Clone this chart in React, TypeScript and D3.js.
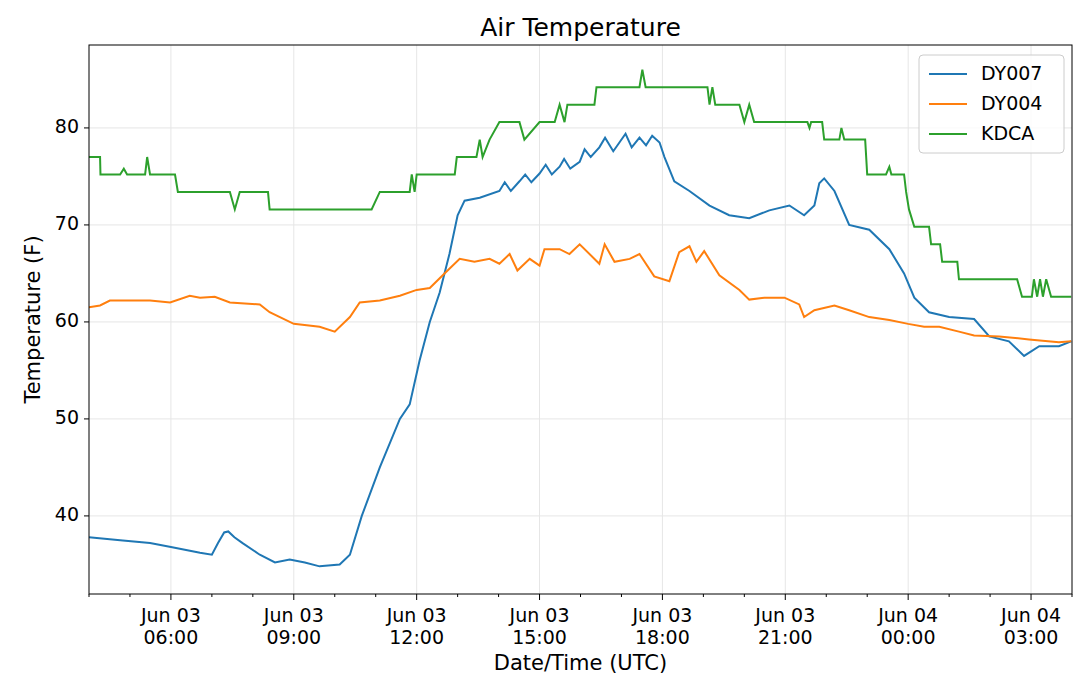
import * as d3 from 'd3'

// hours since Jun 03 00:00 UTC
const dy007T = [4.0, 4.76, 5.49, 6.0, 6.71, 7.0, 7.15, 7.3, 7.4, 7.55, 7.75, 8.17, 8.54, 8.9, 9.27, 9.63, 10.12, 10.37, 10.66, 11.1, 11.59, 11.83, 12.07, 12.32, 12.56, 12.8, 13.0, 13.17, 13.54, 14.02, 14.15, 14.3, 14.51, 14.65, 14.8, 15.0, 15.15, 15.3, 15.49, 15.6, 15.75, 15.98, 16.1, 16.25, 16.46, 16.6, 16.8, 16.95, 17.1, 17.25, 17.44, 17.6, 17.75, 17.93, 18.05, 18.29, 18.66, 19.15, 19.63, 20.12, 20.61, 21.1, 21.46, 21.71, 21.83, 21.95, 22.2, 22.56, 23.05, 23.54, 23.9, 24.15, 24.51, 25.0, 25.61, 25.98, 26.46, 26.83, 27.2, 27.68, 27.98]
const dy007V = [37.8, 37.5, 37.2, 36.8, 36.2, 36.0, 37.2, 38.3, 38.4, 37.8, 37.2, 36.0, 35.2, 35.5, 35.2, 34.8, 35.0, 36.0, 40.0, 45.0, 50.0, 51.5, 56.0, 60.0, 63.0, 67.0, 71.0, 72.5, 72.8, 73.5, 74.4, 73.5, 74.5, 75.2, 74.4, 75.3, 76.2, 75.2, 76.0, 76.8, 75.8, 76.5, 77.8, 77.0, 78.0, 79.0, 77.6, 78.5, 79.4, 78.0, 79.0, 78.2, 79.2, 78.5, 77.0, 74.5, 73.5, 72.0, 71.0, 70.7, 71.5, 72.0, 71.0, 72.0, 74.3, 74.8, 73.5, 70.0, 69.5, 67.5, 65.0, 62.5, 61.0, 60.5, 60.3, 58.5, 58.0, 56.5, 57.5, 57.5, 58.0]

const dy004T = [4.0, 4.27, 4.51, 5.49, 5.98, 6.46, 6.71, 7.07, 7.44, 8.17, 8.41, 9.0, 9.63, 10.0, 10.37, 10.61, 11.1, 11.59, 12.0, 12.32, 12.68, 13.05, 13.41, 13.78, 14.02, 14.27, 14.46, 14.76, 15.0, 15.12, 15.49, 15.73, 15.98, 16.46, 16.59, 16.83, 17.2, 17.44, 17.8, 18.17, 18.41, 18.66, 18.83, 19.02, 19.39, 19.88, 20.12, 20.49, 20.98, 21.34, 21.46, 21.71, 22.2, 22.56, 23.05, 23.54, 24.0, 24.39, 24.76, 25.24, 25.61, 26.22, 26.95, 27.68, 27.98]
const dy004V = [61.5, 61.7, 62.2, 62.2, 62.0, 62.7, 62.5, 62.6, 62.0, 61.8, 61.0, 59.8, 59.5, 59.0, 60.5, 62.0, 62.2, 62.7, 63.3, 63.5, 65.0, 66.5, 66.2, 66.5, 66.0, 67.0, 65.3, 66.5, 65.8, 67.5, 67.5, 67.0, 68.0, 66.0, 68.0, 66.2, 66.5, 67.0, 64.7, 64.2, 67.2, 67.8, 66.2, 67.3, 64.8, 63.3, 62.3, 62.5, 62.5, 61.8, 60.5, 61.2, 61.7, 61.2, 60.5, 60.2, 59.8, 59.5, 59.5, 59.0, 58.6, 58.5, 58.2, 57.9, 58.0]

const kdcaT = [4.0, 4.27, 4.28, 4.76, 4.85, 4.93, 5.37, 5.42, 5.49, 6.1, 6.17, 7.44, 7.56, 7.68, 8.37, 8.41, 10.9, 11.1, 11.83, 11.88, 11.95, 12.0, 12.93, 12.98, 13.46, 13.54, 13.61, 13.78, 14.02, 14.51, 14.63, 15.0, 15.37, 15.49, 15.61, 15.68, 16.34, 16.39, 17.44, 17.51, 17.59, 19.1, 19.15, 19.22, 19.29, 19.88, 20.0, 20.12, 20.24, 21.54, 21.59, 21.63, 21.9, 21.95, 22.32, 22.37, 22.44, 22.95, 23.0, 23.46, 23.54, 23.59, 23.9, 23.95, 24.02, 24.15, 24.51, 24.56, 24.78, 24.83, 25.2, 25.24, 26.66, 26.78, 27.02, 27.07, 27.15, 27.22, 27.29, 27.37, 27.49, 27.98]
const kdcaV = [77, 77, 75.2, 75.2, 75.8, 75.2, 75.2, 77, 75.2, 75.2, 73.4, 73.4, 71.6, 73.4, 73.4, 71.6, 71.6, 73.4, 73.4, 75.2, 73.4, 75.2, 75.2, 77, 77, 78.8, 77, 78.8, 80.6, 80.6, 78.8, 80.6, 80.6, 82.4, 80.6, 82.4, 82.4, 84.2, 84.2, 86, 84.2, 84.2, 82.4, 84.2, 82.4, 82.4, 80.6, 82.4, 80.6, 80.6, 80, 80.6, 80.6, 78.8, 78.8, 80, 78.8, 78.8, 75.2, 75.2, 76, 75.2, 75.2, 73.4, 71.6, 69.8, 69.8, 68, 68, 66.2, 66.2, 64.4, 64.4, 62.6, 62.6, 64.4, 62.6, 64.4, 62.6, 64.4, 62.6, 62.6]

const series = [
  { name: 'DY007', color: '#1f77b4', t: dy007T, v: dy007V },
  { name: 'DY004', color: '#ff7f0e', t: dy004T, v: dy004V },
  { name: 'KDCA', color: '#2ca02c', t: kdcaT, v: kdcaV },
]

const xTicks = [6, 9, 12, 15, 18, 21, 24, 27]
const xTickLabels = [['Jun 03', '06:00'], ['Jun 03', '09:00'], ['Jun 03', '12:00'], ['Jun 03', '15:00'], ['Jun 03', '18:00'], ['Jun 03', '21:00'], ['Jun 04', '00:00'], ['Jun 04', '03:00']]
const yTicks = [40, 50, 60, 70, 80]

export default function App() {
  const m = { top: 45, right: 8, bottom: 97, left: 89 }
  const width = 1080
  const height = 691
  const iw = width - m.left - m.right
  const ih = height - m.top - m.bottom
  const x = d3.scaleLinear().domain([4, 28]).range([0, iw])
  const y = d3.scaleLinear().domain([31.95, 88.55]).range([ih, 0])
  const minor = d3.range(4, 29).filter((h) => !xTicks.includes(h))
  const font = 'DejaVu Sans, sans-serif'

  return (
    <svg width={width} height={height} style={{ position: 'absolute', left: 0, top: 0, background: '#fff' }} fontFamily={font}>
      <text x={m.left + iw / 2} y={36} textAnchor="middle" fontSize={25}>Air Temperature</text>
      <g transform={`translate(${m.left},${m.top})`}>
        {yTicks.map((t) => (
          <g key={t}>
            <line x1={0} x2={iw} y1={y(t)} y2={y(t)} stroke="#e6e6e6" strokeWidth={1} />
            <line x1={-5} x2={0} y1={y(t)} y2={y(t)} stroke="#000" />
            <text x={-10} y={y(t)} textAnchor="end" dominantBaseline="middle" fontSize={19}>{t}</text>
          </g>
        ))}
        {xTicks.map((t, i) => (
          <g key={t}>
            <line x1={x(t)} x2={x(t)} y1={0} y2={ih} stroke="#e6e6e6" strokeWidth={1} />
            <line x1={x(t)} x2={x(t)} y1={ih} y2={ih + 6} stroke="#000" />
            <text x={x(t)} y={ih + 28} textAnchor="middle" fontSize={19}>{xTickLabels[i][0]}</text>
            <text x={x(t)} y={ih + 50} textAnchor="middle" fontSize={19}>{xTickLabels[i][1]}</text>
          </g>
        ))}
        {minor.map((t) => (
          <line key={t} x1={x(t)} x2={x(t)} y1={ih} y2={ih + 3} stroke="#000" />
        ))}
        <clipPath id="plot"><rect width={iw} height={ih} /></clipPath>
        <g clipPath="url(#plot)">
          {series.map((s) => {
            const pts = s.t.map((t, i) => [t, s.v[i]] as [number, number])
            const path = d3.line<[number, number]>().x((d) => x(d[0])).y((d) => y(d[1]))(pts)
            return <path key={s.name} d={path ?? ''} fill="none" stroke={s.color} strokeWidth={2} />
          })}
        </g>
        <rect x={0} y={0} width={iw} height={ih} fill="none" stroke="#000" strokeWidth={1} />
        <g transform={`translate(${iw - 153},10)`}>
          <rect width={145} height={98} rx={4} fill="#fff" fillOpacity={0.8} stroke="#ccc" />
          {series.map((s, i) => (
            <g key={s.name} transform={`translate(10,${19 + i * 30})`}>
              <line x1={0} x2={38} y1={0} y2={0} stroke={s.color} strokeWidth={2} />
              <text x={52} y={0} dominantBaseline="middle" fontSize={19}>{s.name}</text>
            </g>
          ))}
        </g>
      </g>
      <text x={m.left + iw / 2} y={670} textAnchor="middle" fontSize={21}>Date/Time (UTC)</text>
      <text transform={`translate(40,${m.top + ih / 2}) rotate(-90)`} textAnchor="middle" fontSize={21}>Temperature (F)</text>
    </svg>
  )
}
